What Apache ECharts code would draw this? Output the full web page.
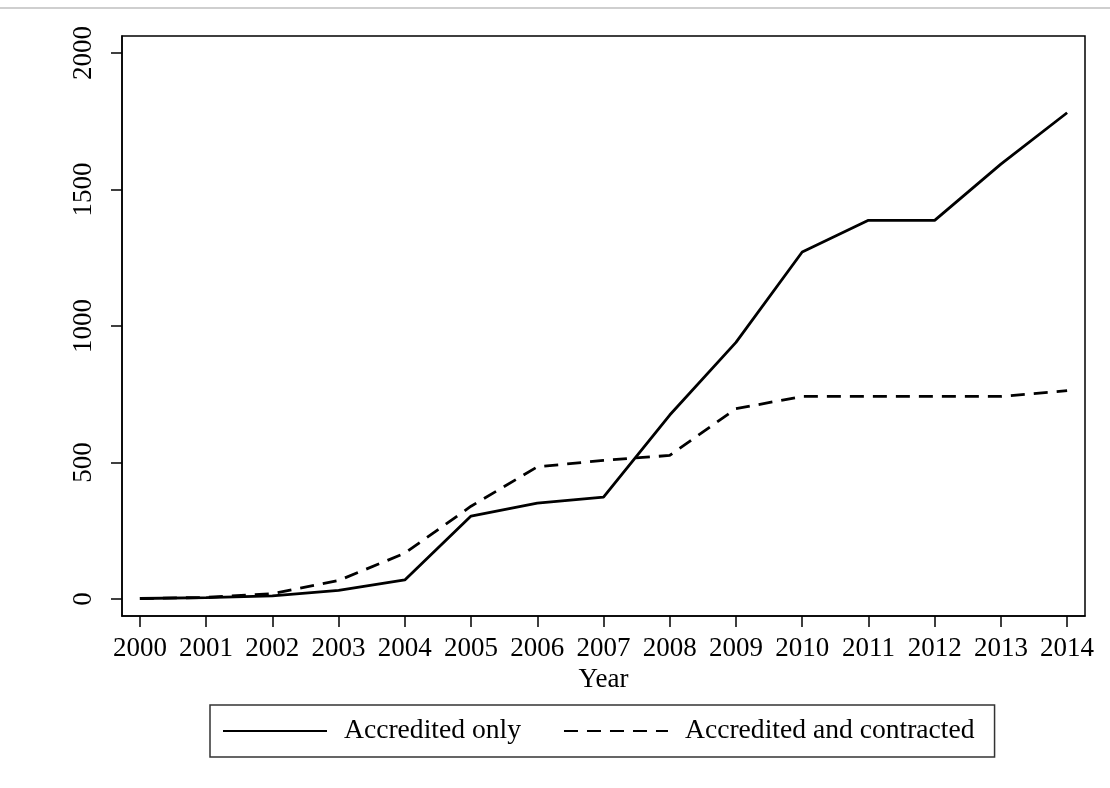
<!DOCTYPE html>
<html>
<head>
<meta charset="utf-8">
<script src="https://cdn.jsdelivr.net/npm/echarts@6/dist/echarts.min.js"></script>
<style>
  html, body { margin: 0; padding: 0; background: #fff; }
  #chart { width: 1110px; height: 788px; }
</style>
</head>
<body>
<div id="chart"></div>
<script>
// data
var years = [2000, 2001, 2002, 2003, 2004, 2005, 2006, 2007, 2008, 2009, 2010, 2011, 2012, 2013, 2014];
var accreditedOnly = [2, 5, 12, 32, 70, 304, 351, 373, 674, 940, 1271, 1387, 1387, 1593, 1781];
var accreditedContracted = [2, 6, 20, 68, 168, 340, 484, 508, 526, 697, 742, 742, 742, 742, 763];
var yTicks = [0, 500, 1000, 1500, 2000];

(function () {
    var myChart = echarts.init(document.getElementById('chart'));
    var font = 'Liberation Serif';

    function pairs(vals) {
        return years.map(function (y, i) { return [y, vals[i]]; });
    }

    var option = {
        backgroundColor: '#fff',
        animation: false,
        textStyle: { fontFamily: font, color: '#000' },
        graphic: [{
            type: 'line',
            shape: { x1: 0, y1: 8, x2: 1110, y2: 8 },
            style: { stroke: '#cfcfcf', lineWidth: 2 }
        }],
        grid: {
            left: 122,
            right: 25,
            top: 36,
            bottom: 172,
            show: true,
            borderColor: '#000',
            borderWidth: 1.5
        },
        legend: {
            left: 210,
            top: 705,
            padding: [12, 20, 12, 12],
            borderColor: '#333',
            borderWidth: 1.5,
            itemWidth: 104,
            itemHeight: 28,
            itemGap: 42,
            itemStyle: { opacity: 0 },
            textStyle: {
                fontFamily: font,
                fontSize: 27.6,
                color: '#000',
                padding: [0, 0, 0, 12]
            },
            data: ['Accredited only', 'Accredited and contracted']
        },
        xAxis: {
            type: 'value',
            min: 1999.73,
            max: 2014.27,
            name: 'Year',
            nameLocation: 'middle',
            nameGap: 49,
            nameTextStyle: { fontFamily: font, fontSize: 27, color: '#000' },
            splitLine: { show: false },
            axisLine: { show: true, onZero: false, lineStyle: { color: '#000', width: 1.5 } },
            axisTick: {
                show: true,
                length: 11,
                customValues: years,
                lineStyle: { color: '#000', width: 1.5 }
            },
            axisLabel: {
                customValues: years,
                margin: 19,
                fontFamily: font,
                fontSize: 27,
                color: '#000',
                formatter: function (v) { return String(Math.round(v)); }
            }
        },
        yAxis: {
            type: 'value',
            min: -62,
            max: 2062,
            splitLine: { show: false },
            axisLine: { show: true, onZero: false, lineStyle: { color: '#000', width: 1.5 } },
            axisTick: {
                show: true,
                length: 11,
                customValues: yTicks,
                lineStyle: { color: '#000', width: 1.5 }
            },
            axisLabel: {
                customValues: yTicks,
                rotate: 90,
                margin: 25,
                fontFamily: font,
                fontSize: 27,
                color: '#000',
                formatter: function (v) { return String(v); }
            }
        },
        series: [
            {
                name: 'Accredited only',
                type: 'line',
                symbol: 'none',
                data: pairs(accreditedOnly),
                lineStyle: { color: '#000', width: 2.8 },
                itemStyle: { color: '#000' }
            },
            {
                name: 'Accredited and contracted',
                type: 'line',
                symbol: 'none',
                data: pairs(accreditedContracted),
                lineStyle: { color: '#000', width: 2.8, type: [14, 9] },
                itemStyle: { color: '#000' }
            }
        ]
    };

    myChart.setOption(option);
    window.addEventListener('resize', function () {
        myChart.resize();
    });
})();
</script>
</body>
</html>
